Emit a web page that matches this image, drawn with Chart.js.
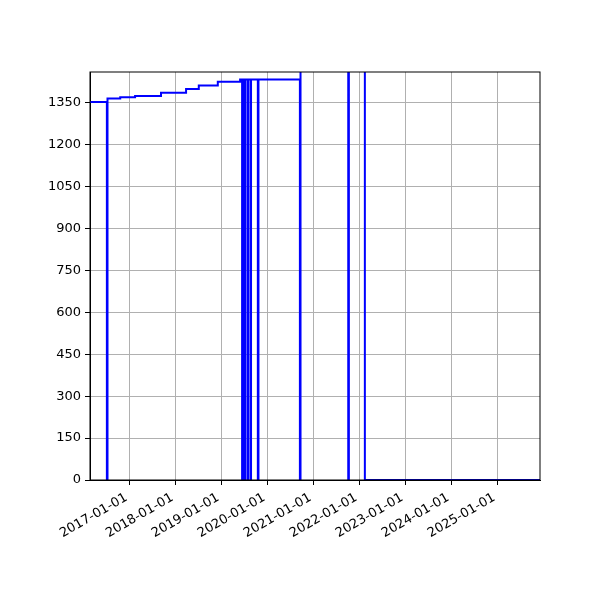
<!DOCTYPE html>
<html>
<head>
<meta charset="utf-8">
<script src="https://cdn.jsdelivr.net/npm/chart.js@4"></script>
<style>
  body { margin: 0; background: #fff; }
  #wrap { width: 600px; height: 600px; }
</style>
</head>
<body>
<div id="wrap"><canvas id="chart" width="600" height="600"></canvas></div>
<script>
// step series: value holds from each date until the next one
const dates = [
  '2016-02-23', '2016-07-06', '2016-07-11', '2016-10-20', '2017-02-15',
  '2017-09-09', '2018-03-27', '2018-07-06', '2018-12-04', '2019-05-30',
  '2019-06-15', '2019-06-20', '2019-07-03', '2019-07-08', '2019-07-27',
  '2019-08-01', '2019-08-20', '2019-08-25', '2019-10-18', '2019-10-23',
  '2020-09-16', '2020-09-21', '2021-10-05', '2021-10-10', '2022-02-14',
  '2025-12-06'
];
const counts = [
  1354, 0, 1366, 1371, 1375,
  1387, 1400, 1413, 1426, 1434,
  0, 1434, 0, 1434, 0,
  1434, 0, 1434, 0, 1434,
  0, 1520, 0, 1540, 0,
  0
];
const xStart = '2016-02-23';
const xEnd = '2025-12-06';
const yearTicks = ['2017-01-01', '2018-01-01', '2019-01-01', '2020-01-01', '2021-01-01',
                   '2022-01-01', '2023-01-01', '2024-01-01', '2025-01-01'];
const yTicks = [0, 150, 300, 450, 600, 750, 900, 1050, 1200, 1350];
const yMax = 1461;

const points = dates.map((d, i) => ({x: Date.parse(d), y: counts[i]}));

const frame = {
  id: 'frame',
  afterDraw: (chart) => {
    const {ctx} = chart;
    const {top, bottom, left, right} = chart.chartArea;
    ctx.save();
    ctx.strokeStyle = '#000';
    ctx.lineWidth = 1;
    ctx.strokeRect(left, top, right - left, bottom - top);
    ctx.restore();
  }
};

const font = {family: 'DejaVu Sans', size: 13};

const config = {
  type: 'line',
  data: {
    datasets: [{
      data: points,
      borderColor: '#0000ff',
      borderWidth: 2,
      stepped: 'before', // horizontal first, then jump (steps-post look)
      pointRadius: 0,
      fill: false
    }]
  },
  options: {
    responsive: false,
    animation: false,
    events: [],
    layout: {padding: {left: 0, right: 60, top: 72, bottom: 0}},
    plugins: {legend: {display: false}, tooltip: {enabled: false}},
    scales: {
      x: {
        type: 'linear',
        min: Date.parse(xStart),
        max: Date.parse(xEnd),
        afterBuildTicks: (s) => { s.ticks = yearTicks.map(d => ({value: Date.parse(d)})); },
        afterFit: (s) => { s.height = 120; },
        grid: {color: '#b0b0b0', lineWidth: 1, tickColor: '#000', tickLength: 5},
        border: {color: '#000', width: 1},
        ticks: {
          font, color: '#000', autoSkip: false, minRotation: 30, maxRotation: 30,
          padding: 5, labelOffset: -3,
          callback: (v) => new Date(v).toISOString().slice(0, 10)
        }
      },
      y: {
        min: 0,
        max: yMax,
        afterBuildTicks: (s) => { s.ticks = yTicks.map(v => ({value: v})); },
        afterFit: (s) => { s.width = 90; },
        grid: {color: '#b0b0b0', lineWidth: 1, tickColor: '#000', tickLength: 5},
        border: {color: '#000', width: 1},
        ticks: {font, color: '#000', padding: 4, callback: (v) => String(v)}
      }
    }
  },
  plugins: [frame]
};

new Chart(document.getElementById('chart'), config);
</script>
</body>
</html>
